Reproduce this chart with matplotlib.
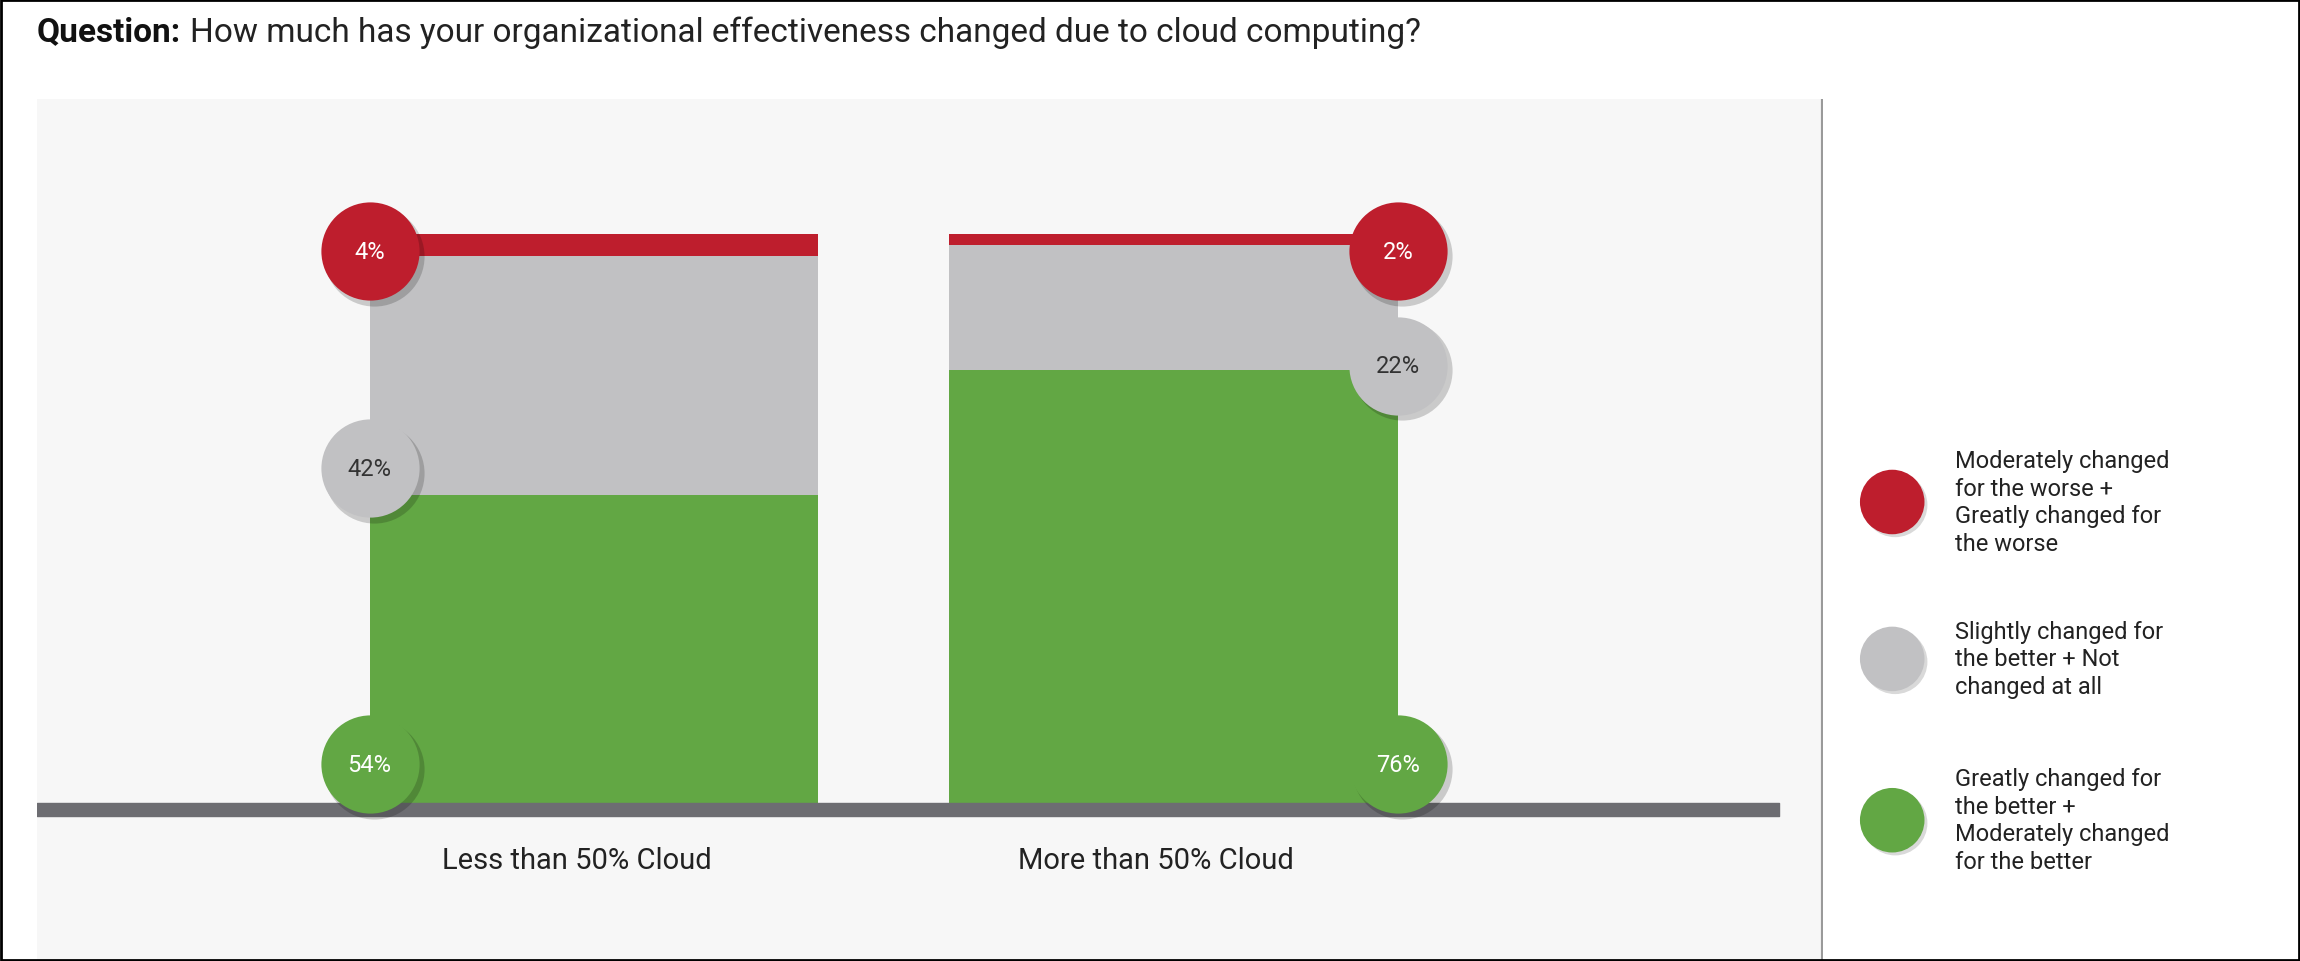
import matplotlib.pyplot as plt
from matplotlib.patches import Circle, Rectangle

groups = ["Less than 50% Cloud", "More than 50% Cloud"]
green_vals = [54, 76]
gray_vals = [42, 22]
red_vals = [4, 2]
legend_labels = [
    "Moderately changed\nfor the worse +\nGreatly changed for\nthe worse",
    "Slightly changed for\nthe better + Not\nchanged at all",
    "Greatly changed for\nthe better +\nModerately changed\nfor the better",
]

RED = "#be1e2d"
GRAY = "#c1c1c3"
GREEN = "#62a744"
W, H = 1568, 656  # layout units (scaled to 2300x962)

fig = plt.figure(figsize=(23, 9.62), dpi=100)
fig.patch.set_facecolor("white")
plt.rcParams["font.family"] = ["Roboto", "DejaVu Sans"]

# main plot panel: x in layout px, y in percent
ax = fig.add_axes([25 / W, 0, (1243 - 25) / W, (656 - 68) / H])
ax.set_facecolor("#f7f7f7")
ppu = (548 - 160) / 100.0
ax.set_xlim(25, 1243)
ax.set_ylim(-(656 - 548) / ppu, (548 - 68) / ppu)
for s in ax.spines.values():
    s.set_visible(False)
ax.set_xticks([])
ax.set_yticks([])

centers = [405, 800]
width = 306
bottoms_gray = green_vals
bottoms_red = [g + m for g, m in zip(green_vals, gray_vals)]
ax.bar(centers, green_vals, width, color=GREEN, zorder=2)
ax.bar(centers, gray_vals, width, bottom=bottoms_gray, color=GRAY, zorder=2)
ax.bar(centers, red_vals, width, bottom=bottoms_red, color=RED, zorder=2)
ax.fill_between([25, 1213], -2.4, 0, color="#6d6d72", zorder=3)
ax.axvline(1243, color="#9a9a9a", lw=3, zorder=3)

for c, name in zip(centers, groups):
    ax.text(c - 12, -10, name, ha="center", va="center", fontsize=21, color="#222222")

edges = [centers[0] - width / 2, centers[1] + width / 2]
gray_label_y = [(548 - 320) / ppu, (548 - 250) / ppu]
red_label_y = (548 - 172) / ppu
green_label_y = (548 - 522) / ppu
for i, x in enumerate(edges):
    pts = [(green_label_y, GREEN, green_vals[i], "white"),
           (gray_label_y[i], GRAY, gray_vals[i], "#333333"),
           (red_label_y, RED, red_vals[i], "white")]
    for y, col, v, tc in pts:
        ax.scatter([x + 3], [y - 0.8], s=5200, color="#000000", alpha=0.18, zorder=4, lw=0)
        ax.scatter([x], [y], s=5000, color=col, zorder=5, lw=0)
        ax.text(x, y, f"{v}%", ha="center", va="center", fontsize=17, color=tc, zorder=6)

# overlay for title, legend and border
ov = fig.add_axes([0, 0, 1, 1], facecolor="none")
ov.set_xlim(0, W)
ov.set_ylim(H, 0)
ov.axis("off")
ov.add_patch(Rectangle((1, 1), W - 2, H - 2, fill=False, ec="black", lw=2))
t = ov.text(25, 22, "Question:", fontsize=24, fontweight="bold", va="center", color="#111111")
fig.canvas.draw()
bb = t.get_window_extent().transformed(ov.transData.inverted())
ov.text(bb.x1 + 6, 22, "How much has your organizational effectiveness changed due to cloud computing?",
        fontsize=24, va="center", color="#222222")

for y, col, lab in zip([343, 450, 560], [RED, GRAY, GREEN], legend_labels):
    ov.add_patch(Circle((1292, y + 2), 22, color="black", alpha=0.15, lw=0))
    ov.add_patch(Circle((1290, y), 22, color=col, lw=0))
    ov.text(1333, y, lab, fontsize=17, va="center", color="#222222", linespacing=1.25)

fig.savefig("out.png", dpi=100, facecolor="white")
